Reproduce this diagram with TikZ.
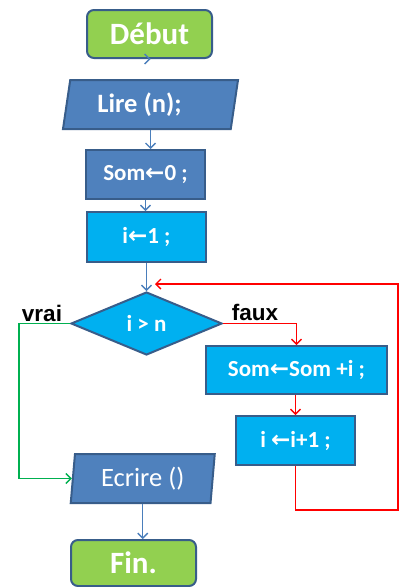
\documentclass[tikz,border=0pt]{standalone}
\usepackage{fontspec}
\setmainfont{Carlito}
\newfontfamily\labelfont{Liberation Sans}
\newfontfamily\arrowfont{DejaVu Sans}
\usetikzlibrary{shapes.geometric,arrows.meta}

\definecolor{startgreen}{HTML}{92D050}
\definecolor{midblue}{HTML}{4F81BD}
\definecolor{skyblue}{HTML}{00B0F0}
\definecolor{edgeblue}{HTML}{385D8A}
\definecolor{lineblue}{HTML}{4A7EBB}
\definecolor{loopred}{HTML}{FF0000}
\definecolor{truegreen}{HTML}{00B050}

\newcommand{\la}{{\arrowfont ←}}

\begin{document}
\begin{tikzpicture}[x=1pt,y=-1pt,
  box/.style={draw=edgeblue, line width=2pt, inner sep=0pt, text=white,
    font=\fontsize{23}{27}\selectfont\bfseries},
  terminal/.style={box, fill=startgreen, rounded corners=7pt,
    minimum width=125pt, minimum height=48pt,
    font=\fontsize{31}{36}\selectfont\bfseries},
  iobox/.style={box, fill=midblue, trapezium, trapezium stretches body,
    minimum height=49pt},
  procbox/.style={box, minimum height=49pt},
  decision/.style={box, fill=skyblue, diamond, aspect=2.4,
    minimum width=151pt, minimum height=63pt},
  flow/.style={draw=lineblue, line width=1.4pt,
    -{Straight Barb[length=5pt,width=10pt]}},
  yesflow/.style={flow, draw=truegreen},
  noflow/.style={flow, draw=loopred},
  branch/.style={font=\labelfont\fontsize{22.5}{26}\selectfont\bfseries, inner sep=0pt}
]
\useasboundingbox[fill=white] (0,0) rectangle (400,587);

% nodes
\node[terminal] (debut) at (149.5,34) {Début};
\node[iobox, trapezium left angle=73, trapezium right angle=107,
      minimum width=175pt, font=\fontsize{26.5}{30}\selectfont\bfseries]
      (lire) at (150.5,104.5) {Lire (n);\hspace*{22pt}};
\node[procbox, fill=midblue, minimum width=119pt] (som0) at (145.5,174.5) {Som\la0 ;};
\node[procbox, fill=skyblue, minimum width=119pt, minimum height=50pt] (i1) at (146.5,237) {i\la1 ;};
\node[decision] (cond) at (146.5,323.5) {i > n};
\node[procbox, fill=skyblue, minimum width=181pt, minimum height=48pt] (somi) at (296.5,370) {Som\la Som +i ;};
\node[procbox, fill=skyblue, minimum width=119pt] (inc) at (295.5,440.5) {i \la i+1 ;};
\node[iobox, trapezium left angle=79.6, trapezium right angle=100.4,
      minimum width=144pt, font=\fontsize{26.5}{30}\selectfont]
      (ecrire) at (142.75,478.5) {Ecrire ()};
\node[terminal, minimum height=46pt] (fin) at (133.5,563) {Fin.};

\node[branch] (vrai) at (42,313) {vrai};
\node[branch] (faux) at (255,312) {faux};

% corner points of the loops
\coordinate (vcorner) at (19,323.5);
\coordinate (loopin) at (155,284);
\coordinate (loopright) at (398,510);

% main line
\draw[flow] (debut.south) -- (debut.south -| lire.north);
\draw[flow] (lire.south) -- (lire.south |- som0.north);
\draw[flow] (som0.south) -- (som0.south |- i1.north);
\draw[flow] (i1.south) -- (i1.south |- cond.north);
\draw[flow] (ecrire.south) -- (ecrire.south |- fin.north);

% true branch
\draw[yesflow] (cond.west) -- (vcorner) |- (ecrire.west);

% false branch and loop back
\draw[noflow] (cond.east) -| (somi.north);
\draw[noflow] (somi.south -| inc.north) -- (inc.north);
\draw[noflow] (inc.south) |- (loopright) |- (loopin);
\end{tikzpicture}
\end{document}
